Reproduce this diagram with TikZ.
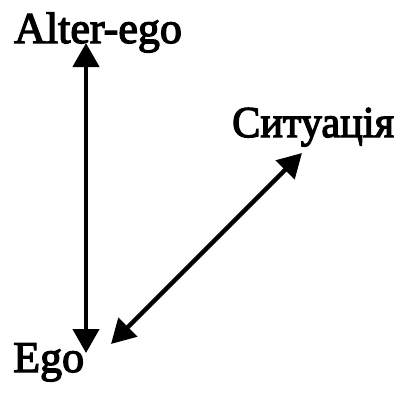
\documentclass[tikz,border=0pt]{standalone}
\usepackage{fontspec}
\setmainfont{Liberation Serif}
\newfontfamily\labelfont{Liberation Serif}[FakeBold=3]
\usetikzlibrary{arrows.meta, positioning}

\begin{document}
\begin{tikzpicture}[
        x=1pt, y=-1pt,
        label/.style={inner sep=0pt, anchor=base west, font=\fontsize{44}{48}\labelfont},
        link/.style={{Triangle[length=24pt, width=26pt]}-{Triangle[length=24pt, width=26pt]}, line width=4.5pt},
    ]
        \useasboundingbox (0, 0) rectangle (399, 392);

        \node[label] (alter) at (14, 43) {Alter-ego};
        \node[label] (sit) at (232, 137) {\scalebox{0.96}[1]{Ситуація}};
        \node[label] (ego) at (13, 372) {Ego};

        \draw[link] ([shift={(73pt,19pt)}]ego.base west) -- ([shift={(72pt,0pt)}]alter.base west);
        \draw[link] ([shift={(98pt,28pt)}]ego.base west) -- ([shift={(70pt,-16pt)}]sit.base west);
    \end{tikzpicture}
\end{document}
